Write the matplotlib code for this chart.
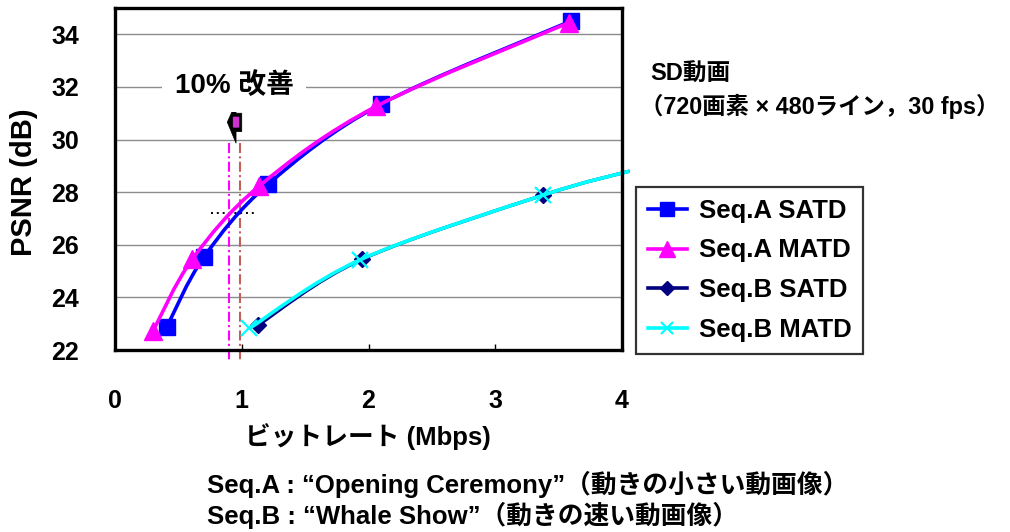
import numpy as np
import matplotlib
matplotlib.use("Agg")
import matplotlib.pyplot as plt
from matplotlib.path import Path
from matplotlib.patches import PathPatch, Polygon, FancyBboxPatch
from matplotlib.lines import Line2D

plt.rcParams['font.family'] = ['Liberation Sans', 'Noto Sans CJK JP']
plt.rcParams['font.weight'] = 'bold'

# Rate-distortion data (bit rate in Mbps, PSNR in dB)
seqA_satd_rate = [0.41, 0.70, 1.21, 2.10, 3.60]
seqA_satd_psnr = [22.89, 25.52, 28.31, 31.35, 34.51]
seqA_matd_rate = [0.30, 0.61, 1.14, 2.06, 3.58]
seqA_matd_psnr = [22.72, 25.45, 28.24, 31.26, 34.44]
seqB_satd_rate = [1.13, 1.95, 3.38, 4.06]
seqB_satd_psnr = [22.95, 25.45, 27.89, 28.80]
seqB_matd_rate = [1.06, 1.93, 3.38, 4.06]
seqB_matd_psnr = [22.82, 25.42, 27.89, 28.80]

series_labels = ['Seq.A SATD', 'Seq.A MATD', 'Seq.B SATD', 'Seq.B MATD']
x_ticks = [0, 1, 2, 3, 4]
y_ticks = [22, 24, 26, 28, 30, 32, 34]

# bit rates compared by the 10 % annotation
rate_matd_ref = 0.90
rate_satd_ref = 0.99
psnr_ref = 27.2

W, H = 1010, 532
fig = plt.figure(figsize=(W / 100, H / 100), dpi=100)


def fx(x):
    return x / W


def fy(y):
    return 1 - y / H


ax = fig.add_axes([fx(115), fy(350), fx(622) - fx(115), fy(8) - fy(350)])
ax.set_xlim(0, 4)
ax.set_ylim(22, 35)


def smooth_path(x, y):
    """Cubic Bezier path through the points (Catmull-Rom style tangents)."""
    p = np.column_stack([x, y]).astype(float)
    n = len(p)
    verts = [p[0]]
    codes = [Path.MOVETO]
    for i in range(n - 1):
        p0 = p[i - 1] if i > 0 else p[i]
        p1 = p[i]
        p2 = p[i + 1]
        p3 = p[i + 2] if i + 2 < n else p[i + 1]
        c1 = p1 + (p2 - p0) / 6.0
        c2 = p2 - (p3 - p1) / 6.0
        verts += [c1, c2, p2]
        codes += [Path.CURVE4] * 3
    return Path(verts, codes)


styles = [
    dict(color='#0000FF', marker='s', ms=12, lw=2.6),
    dict(color='#FF00FF', marker='^', ms=13, lw=2.6),
    dict(color='#000080', marker='D', ms=8, lw=2.4),
    dict(color='#00FFFF', marker='x', ms=11, lw=2.6),
]
data = [
    (seqA_satd_rate, seqA_satd_psnr),
    (seqA_matd_rate, seqA_matd_psnr),
    (seqB_satd_rate, seqB_satd_psnr),
    (seqB_matd_rate, seqB_matd_psnr),
]

handles = []
for k, ((xs, ys), st) in enumerate(zip(data, styles)):
    z = 3 + k
    patch = PathPatch(smooth_path(xs, ys), facecolor='none', edgecolor=st['color'],
                      lw=st['lw'], zorder=z, clip_on=False, capstyle='butt')
    ax.add_patch(patch)
    n_mark = 5 if len(xs) == 5 else 3
    mk_kw = dict(markeredgecolor=st['color'], markerfacecolor=st['color'])
    if st['marker'] == 'x':
        mk_kw['markeredgewidth'] = 1.6
    ax.plot(xs[:n_mark], ys[:n_mark], linestyle='none', marker=st['marker'],
            ms=st['ms'], zorder=z + 0.5, clip_on=False, **mk_kw)
    handles.append(Line2D([], [], color=st['color'], lw=2.6, marker=st['marker'],
                          ms=st['ms'] * 0.85, **mk_kw))

# grid and frame
ax.set_yticks(y_ticks)
ax.set_xticks(x_ticks)
for yv in y_ticks[1:]:
    ax.axhline(yv, color='#8c8c8c', lw=1.0, zorder=1)
for s in ax.spines.values():
    s.set_linewidth(2.4)
    s.set_color('black')
    s.set_zorder(10)
ax.tick_params(axis='x', direction='in', length=4, width=1.0, pad=28,
               labelsize=18, top=False)
ax.tick_params(axis='y', length=0, pad=26, labelsize=18)
for lab in ax.get_xticklabels() + ax.get_yticklabels():
    lab.set_fontweight('bold')

# 10 % improvement markers
dashdot = (0, (4.8, 1.6, 1.0, 1.6))
ax.plot([rate_matd_ref, rate_matd_ref], [29.87, 21.56], color='#FF00FF', lw=1.5,
        linestyle=dashdot, clip_on=False, zorder=2)
ax.plot([rate_satd_ref, rate_satd_ref], [29.87, 21.56], color='#C0605A', lw=1.5,
        linestyle=dashdot, clip_on=False, zorder=2)
ax.plot([0.76, 1.11], [psnr_ref, psnr_ref], color='black', lw=1.4,
        linestyle=(0, (1, 2)), zorder=2)

arrow = Polygon([(0.886, 30.66), (0.955, 31.40), (0.955, 31.0), (1.0, 31.0),
                 (1.0, 30.30), (0.955, 30.30), (0.955, 29.86)],
                closed=True, facecolor='black', edgecolor='black', lw=0.5, zorder=8)
ax.add_patch(arrow)
ax.add_patch(FancyBboxPatch((0.93, 30.45), 0.05, 0.42,
                            boxstyle='round,pad=0,rounding_size=0.02',
                            facecolor='#D030D0', edgecolor='none', zorder=9))

fig.text(fx(234), fy(86), '10% 改善', fontsize=20, fontweight='bold',
         ha='center', va='center', zorder=20,
         bbox=dict(facecolor='white', edgecolor='none', pad=9))

# axis titles
fig.text(fx(24), fy(182), 'PSNR (dB)', fontsize=21, fontweight='bold',
         rotation=90, ha='center', va='center')
fig.text(fx(245), fy(437), 'ビットレート (Mbps)', fontsize=18.5, fontweight='bold',
         ha='left', va='center')

# annotations on the right
fig.text(fx(650), fy(74), 'SD動画', fontsize=17, fontweight='bold',
         ha='left', va='center')
fig.text(fx(640), fy(106), '（720画素 × 480ライン，30 fps）', fontsize=16.8,
         fontweight='bold', ha='left', va='center')

# sequence descriptions
fig.text(fx(207), fy(484), 'Seq.A : “Opening Ceremony”（動きの小さい動画像）',
         fontsize=18.5, fontweight='bold', ha='left', va='center')
fig.text(fx(207), fy(515), 'Seq.B : “Whale Show”（動きの速い動画像）',
         fontsize=18.5, fontweight='bold', ha='left', va='center')

leg = fig.legend(handles, series_labels, loc='upper left',
                 bbox_to_anchor=(fx(636), fy(187)), borderaxespad=0,
                 prop=dict(size=18.5, weight='bold'), frameon=True, fancybox=False,
                 edgecolor='black', handlelength=1.55, handletextpad=0.45,
                 labelspacing=0.62, borderpad=0.45)
leg.get_frame().set_linewidth(1.6)

fig.savefig('out.png', dpi=100)
